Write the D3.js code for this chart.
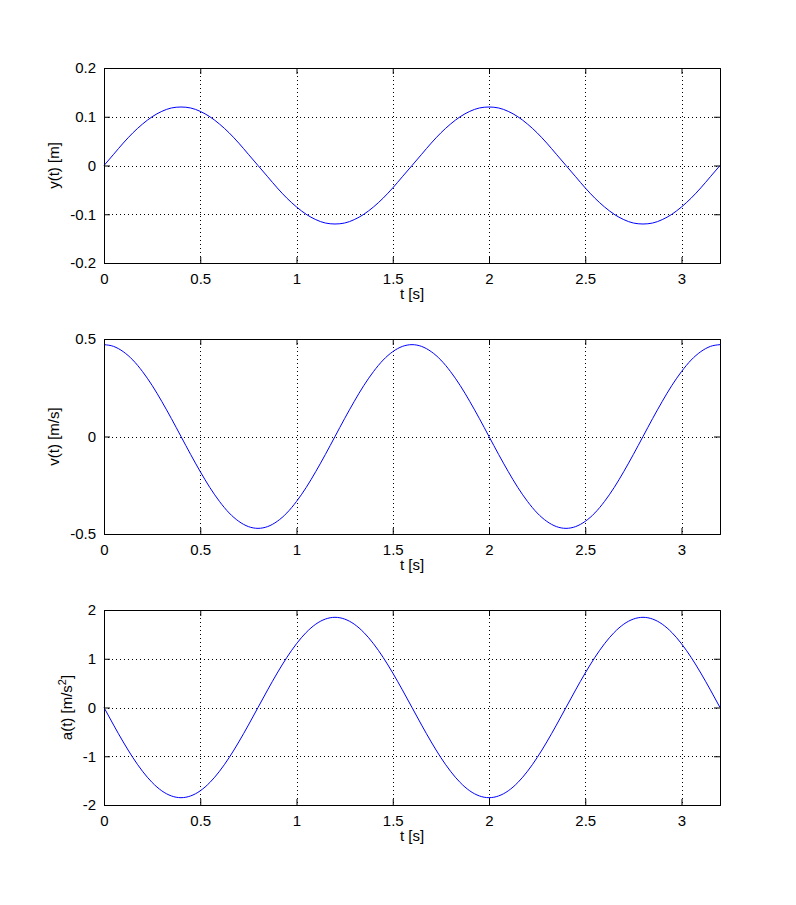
<!DOCTYPE html>
<html><head><meta charset="utf-8">
<script src="https://cdn.jsdelivr.net/npm/d3@7"></script>
<style>body{margin:0;background:#fff}svg{display:block}text{font-family:"Liberation Sans",Arial,sans-serif;fill:#000}</style>
</head><body><svg id="c" width="796" height="905"></svg>
<script>
const tValues = [0,0.05,0.1,0.15,0.2,0.25,0.3,0.35,0.4,0.45,0.5,0.55,0.6,0.65,0.7,0.75,0.8,0.85,0.9,0.95,1,1.05,1.1,1.15,1.2,1.25,1.3,1.35,1.4,1.45,1.5,1.55,1.6,1.65,1.7,1.75,1.8,1.85,1.9,1.95,2,2.05,2.1,2.15,2.2,2.25,2.3,2.35,2.4,2.45,2.5,2.55,2.6,2.65,2.7,2.75,2.8,2.85,2.9,2.95,3,3.05,3.1,3.15,3.2];
const yValues = [0,0.023,0.046,0.067,0.085,0.1,0.111,0.118,0.12,0.118,0.111,0.1,0.085,0.067,0.046,0.023,0,
-0.023,-0.046,-0.067,-0.085,-0.1,-0.111,-0.118,-0.12,-0.118,-0.111,-0.1,-0.085,-0.067,-0.046,-0.023,0,
0.023,0.046,0.067,0.085,0.1,0.111,0.118,0.12,0.118,0.111,0.1,0.085,0.067,0.046,0.023,0,
-0.023,-0.046,-0.067,-0.085,-0.1,-0.111,-0.118,-0.12,-0.118,-0.111,-0.1,-0.085,-0.067,-0.046,-0.023,0];
const vValues = [0.471,0.462,0.435,0.392,0.333,0.262,0.18,0.092,0,-0.092,-0.18,-0.262,-0.333,-0.392,-0.435,-0.462,-0.471,
-0.462,-0.435,-0.392,-0.333,-0.262,-0.18,-0.092,0,0.092,0.18,0.262,0.333,0.392,0.435,0.462,0.471,
0.462,0.435,0.392,0.333,0.262,0.18,0.092,0,-0.092,-0.18,-0.262,-0.333,-0.392,-0.435,-0.462,-0.471,
-0.462,-0.435,-0.392,-0.333,-0.262,-0.18,-0.092,0,0.092,0.18,0.262,0.333,0.392,0.435,0.462,0.471];
const aValues = [0,-0.361,-0.708,-1.028,-1.308,-1.538,-1.709,-1.814,-1.85,-1.814,-1.709,-1.538,-1.308,-1.028,-0.708,-0.361,0,
0.361,0.708,1.028,1.308,1.538,1.709,1.814,1.85,1.814,1.709,1.538,1.308,1.028,0.708,0.361,0,
-0.361,-0.708,-1.028,-1.308,-1.538,-1.709,-1.814,-1.85,-1.814,-1.709,-1.538,-1.308,-1.028,-0.708,-0.361,0,
0.361,0.708,1.028,1.308,1.538,1.709,1.814,1.85,1.814,1.709,1.538,1.308,1.028,0.708,0.361,0];
const xTicks = [0,0.5,1,1.5,2,2.5,3];
const yTicks1 = [-0.2,-0.1,0,0.1,0.2];
const yTicks2 = [-0.5,0,0.5];
const yTicks3 = [-2,-1,0,1,2];
const xLabel = "t [s]";

const svg = d3.select("#c");
const L = 104, R = 720, H = 195;
const panels = [
  {top:68, data:yValues, dom:[-0.2,0.2], ticks:yTicks1, label:["y(t) [m]"]},
  {top:339, data:vValues, dom:[-0.5,0.5], ticks:yTicks2, label:["v(t) [m/s]"]},
  {top:610, data:aValues, dom:[-2,2], ticks:yTicks3, label:["a(t) [m/s","2","]"]}
];
const fmt = d => String(+d.toFixed(2));
panels.forEach(p => {
  const x = d3.scaleLinear().domain([0,3.2]).range([L,R]);
  const y = d3.scaleLinear().domain(p.dom).range([p.top+H,p.top]);
  const g = svg.append("g");
  // grid
  g.append("g").selectAll("line").data(xTicks.filter(t=>t>0)).join("line")
    .attr("x1",d=>Math.round(x(d))+0.5).attr("x2",d=>Math.round(x(d))+0.5)
    .attr("y1",p.top).attr("y2",p.top+H)
    .attr("stroke","#000").attr("stroke-width",1).attr("stroke-dasharray","1,3");
  g.append("g").selectAll("line").data(p.ticks.slice(1,-1)).join("line")
    .attr("y1",d=>Math.round(y(d))+0.5).attr("y2",d=>Math.round(y(d))+0.5)
    .attr("x1",L).attr("x2",R)
    .attr("stroke","#000").attr("stroke-width",1).attr("stroke-dasharray","1,3");
  // curve
  const line = d3.line().x((d,i)=>x(tValues[i])).y(d=>y(d)).curve(d3.curveMonotoneX);
  g.append("path").datum(p.data).attr("d",line).attr("fill","none")
    .attr("stroke","#0000ff").attr("stroke-width",1);
  // axes
  const axB = d3.axisBottom(x).tickValues(xTicks).tickSize(-6).tickPadding(10).tickFormat(fmt);
  const axT = d3.axisTop(x).tickValues(xTicks).tickSize(-6).tickFormat("");
  const axLf = d3.axisLeft(y).tickValues(p.ticks).tickSize(-6).tickPadding(8).tickFormat(fmt);
  const axRt = d3.axisRight(y).tickValues(p.ticks).tickSize(-6).tickFormat("");
  let leftAxisG;
  [[axB,`translate(0,${p.top+H})`],[axT,`translate(0,${p.top})`],[axLf,`translate(${L},0)`],[axRt,`translate(${R},0)`]].forEach(([a,tr],k)=>{
    const ag = g.append("g").attr("transform",tr).call(a);
    ag.select(".domain").attr("stroke","#000").attr("stroke-width",1);
    ag.selectAll(".tick line").attr("stroke","#000");
    ag.selectAll("text").attr("font-size",15).attr("font-family",'"Liberation Sans",Arial,sans-serif').attr("fill","#000");
    if (k===2) leftAxisG = ag;
  });
  // x label
  g.append("text").attr("x",(L+R)/2).attr("y",p.top+H+36).attr("text-anchor","middle")
    .attr("font-size",15).text(xLabel);
  // y label, placed left of the widest tick label
  let minX = Infinity;
  leftAxisG.selectAll("text").each(function(){ const b=this.getBBox(); minX=Math.min(minX, L + b.x); });
  const yl = g.append("text").attr("transform",`translate(${minX-11},${p.top+H/2}) rotate(-90)`)
    .attr("text-anchor","middle").attr("font-size",15);
  yl.append("tspan").text(p.label[0]);
  if (p.label.length>1){
    yl.append("tspan").attr("dy",-6).attr("font-size",11).text(p.label[1]);
    yl.append("tspan").attr("dy",6).text(p.label[2]);
  }
});
</script></body></html>
